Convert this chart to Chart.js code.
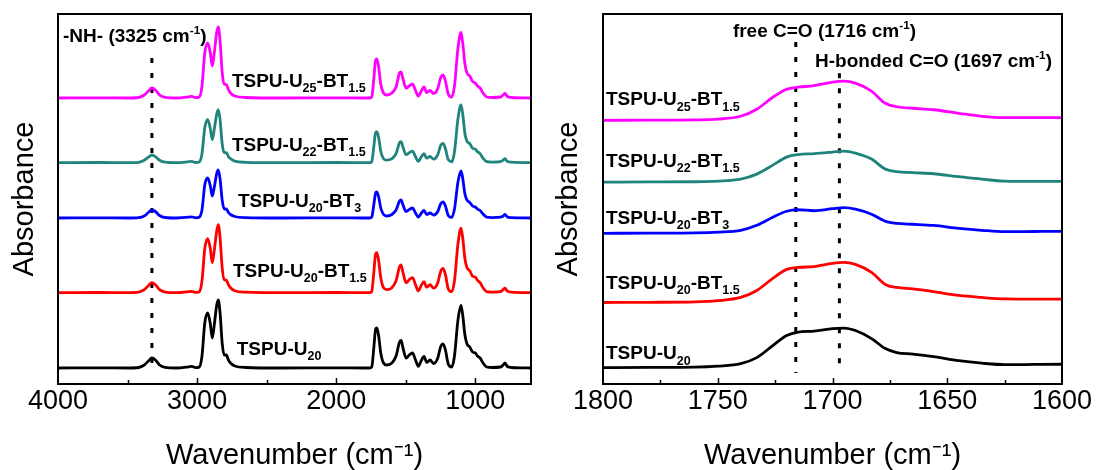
<!DOCTYPE html>
<html>
<head>
<meta charset="utf-8">
<script src="https://cdn.jsdelivr.net/npm/chart.js@4.4.0/dist/chart.umd.min.js"></script>
<style>
  html, body { margin: 0; padding: 0; background: #fff; }
  #wrap { position: relative; width: 1097px; height: 470px; }
  .box { position: absolute; top: 0; height: 470px; }
</style>
</head>
<body>
<div id="wrap">
  <div class="box" style="left:0;width:550px"><canvas id="leftChart"></canvas></div>
  <div class="box" style="left:550px;width:547px"><canvas id="rightChart"></canvas></div>
</div>
<script>
// ---- data: full range FTIR (left panel) ----
const L_WN = [4000, 3700, 3500, 3420, 3380, 3350, 3325, 3300, 3270, 3230,
  3150, 3060, 3040, 3010, 2985, 2965, 2945, 2924, 2905, 2891,
  2875, 2860, 2848, 2835, 2820, 2805, 2790, 2775, 2760, 2730,
  2650, 2400, 2000, 1800, 1760, 1745, 1730, 1718, 1708, 1695,
  1680, 1660, 1637, 1600, 1570, 1545, 1534, 1520, 1498, 1475,
  1452, 1430, 1410, 1390, 1369, 1350, 1326, 1300, 1270, 1250,
  1232, 1215, 1195, 1170, 1150, 1125, 1103, 1090, 1075, 1060,
  1040, 1020, 1000, 985, 966, 945, 918, 880, 820, 800,
  787, 770, 740, 600];

const L_U20 = [0, 0.002, 0, 0.005, 0.03, 0.07, 0.10, 0.08, 0.03, 0.006,
  0, 0.012, 0.016, 0.003, 0.01, 0.12, 0.45, 0.55, 0.44, 0.30,
  0.45, 0.62, 0.68, 0.55, 0.25, 0.13, 0.13, 0.08, 0.05, 0.02,
  0.005, 0, 0.002, 0, 0, 0.01, 0.20, 0.38, 0.40, 0.32,
  0.15, 0.05, 0.03, 0.05, 0.12, 0.26, 0.276, 0.20, 0.10, 0.13,
  0.15, 0.08, 0.016, 0.07, 0.116, 0.056, 0.08, 0.045, 0.10, 0.21,
  0.24, 0.18, 0.04, 0.01, 0.12, 0.48, 0.626, 0.52, 0.33, 0.24,
  0.21, 0.16, 0.15, 0.12, 0.10, 0.05, 0.01, 0.005, 0.01, 0.03,
  0.05, 0.015, 0.005, 0];

const L_U20_BT15 = [0, 0.002, 0, 0.005, 0.03, 0.07, 0.10, 0.08, 0.03, 0.006,
  0, 0.01, 0.014, 0.003, 0.01, 0.12, 0.44, 0.54, 0.44, 0.30,
  0.44, 0.61, 0.68, 0.55, 0.25, 0.13, 0.125, 0.08, 0.05, 0.02,
  0.005, 0, 0.002, 0, 0, 0.01, 0.20, 0.38, 0.40, 0.32,
  0.15, 0.05, 0.03, 0.05, 0.12, 0.26, 0.277, 0.20, 0.10, 0.13,
  0.15, 0.08, 0.018, 0.07, 0.11, 0.055, 0.08, 0.045, 0.10, 0.21,
  0.243, 0.18, 0.04, 0.01, 0.12, 0.49, 0.645, 0.54, 0.34, 0.25,
  0.22, 0.165, 0.155, 0.125, 0.10, 0.05, 0.01, 0.005, 0.01, 0.03,
  0.045, 0.015, 0.005, 0];

const L_U20_BT3 = [0, 0.002, 0, 0.004, 0.02, 0.055, 0.08, 0.065, 0.025, 0.005,
  0, 0.008, 0.012, 0.002, 0.008, 0.08, 0.33, 0.40, 0.32, 0.22,
  0.32, 0.44, 0.48, 0.39, 0.18, 0.09, 0.09, 0.055, 0.035, 0.015,
  0.004, 0, 0.002, 0, 0, 0.008, 0.13, 0.245, 0.26, 0.21,
  0.10, 0.035, 0.02, 0.035, 0.08, 0.17, 0.18, 0.13, 0.065, 0.085,
  0.10, 0.05, 0.01, 0.045, 0.075, 0.035, 0.05, 0.03, 0.065, 0.14,
  0.16, 0.12, 0.025, 0.006, 0.09, 0.36, 0.47, 0.39, 0.24, 0.18,
  0.155, 0.12, 0.11, 0.09, 0.075, 0.04, 0.008, 0.004, 0.008, 0.02,
  0.035, 0.01, 0.004, 0];

const L_U22_BT15 = [0, 0.002, 0, 0.004, 0.025, 0.055, 0.077, 0.06, 0.025, 0.005,
  0, 0.01, 0.013, 0.002, 0.008, 0.09, 0.35, 0.43, 0.34, 0.23,
  0.35, 0.48, 0.53, 0.43, 0.19, 0.10, 0.10, 0.06, 0.04, 0.015,
  0.004, 0, 0.002, 0, 0, 0.008, 0.16, 0.295, 0.31, 0.25,
  0.115, 0.04, 0.025, 0.04, 0.09, 0.20, 0.21, 0.155, 0.08, 0.10,
  0.115, 0.06, 0.013, 0.055, 0.09, 0.045, 0.062, 0.035, 0.08, 0.17,
  0.193, 0.14, 0.03, 0.008, 0.11, 0.44, 0.577, 0.48, 0.29, 0.215,
  0.19, 0.145, 0.135, 0.11, 0.09, 0.045, 0.01, 0.005, 0.01, 0.025,
  0.04, 0.012, 0.005, 0];

const L_U25_BT15 = [0, 0.002, 0, 0.005, 0.03, 0.07, 0.10, 0.08, 0.03, 0.006,
  0, 0.012, 0.016, 0.003, 0.01, 0.12, 0.45, 0.55, 0.45, 0.32,
  0.47, 0.65, 0.71, 0.57, 0.26, 0.14, 0.135, 0.085, 0.05, 0.02,
  0.005, 0, 0.002, 0, 0, 0.01, 0.19, 0.37, 0.39, 0.31,
  0.14, 0.05, 0.03, 0.05, 0.11, 0.25, 0.26, 0.19, 0.10, 0.12,
  0.14, 0.075, 0.02, 0.065, 0.11, 0.055, 0.075, 0.045, 0.095, 0.20,
  0.23, 0.17, 0.04, 0.01, 0.12, 0.50, 0.655, 0.54, 0.34, 0.25,
  0.22, 0.165, 0.15, 0.12, 0.10, 0.05, 0.01, 0.005, 0.01, 0.03,
  0.045, 0.015, 0.005, 0];

// vertical offsets used to stack the spectra (a.u.)
const L_OFFSETS = [0, 0.753, 1.50, 2.053, 2.70];

// ---- data: carbonyl region (right panel) ----
const R_WN = [1800, 1780, 1760, 1750, 1740, 1733, 1726, 1720, 1715, 1708, 1700, 1695,
  1690, 1683, 1677, 1672, 1665, 1656, 1645, 1635, 1625, 1612, 1600];
const R_U20 = [0, 0.002, 0.005, 0.015, 0.04, 0.10, 0.22, 0.32, 0.355, 0.365, 0.39, 0.395,
  0.37, 0.29, 0.19, 0.15, 0.135, 0.11, 0.07, 0.045, 0.03, 0.032, 0.034];
const R_U20_BT15 = [0, 0.002, 0.006, 0.018, 0.05, 0.12, 0.24, 0.33, 0.35, 0.358, 0.39, 0.40,
  0.38, 0.30, 0.18, 0.15, 0.135, 0.108, 0.07, 0.05, 0.036, 0.034, 0.034];
const R_U20_BT3 = [0, 0.002, 0.005, 0.012, 0.03, 0.08, 0.16, 0.22, 0.235, 0.225, 0.245, 0.255,
  0.24, 0.19, 0.12, 0.098, 0.09, 0.078, 0.05, 0.03, 0.016, 0.018, 0.02];
const R_U22_BT15 = [0, 0.002, 0.004, 0.01, 0.03, 0.08, 0.17, 0.25, 0.275, 0.285, 0.30, 0.31,
  0.29, 0.23, 0.13, 0.105, 0.095, 0.084, 0.055, 0.03, 0.01, 0.007, 0.007];
const R_U25_BT15 = [0, 0.001, 0.004, 0.012, 0.04, 0.11, 0.23, 0.31, 0.33, 0.345, 0.38, 0.39,
  0.37, 0.29, 0.17, 0.135, 0.12, 0.105, 0.07, 0.04, 0.027, 0.027, 0.027];
const R_OFFSETS = [0, 0.65, 1.34, 1.85, 2.467];

const COLORS = ["#000000", "#ff0000", "#0000ff", "#1e847c", "#ff00ff"];
const FONT = "'Liberation Sans', Arial, sans-serif";

// sample names as rich text: [text, 0 normal / 1 subscript / 2 superscript]
const NAMES = [
  [["TSPU-U", 0], ["20", 1]],
  [["TSPU-U", 0], ["20", 1], ["-BT", 0], ["1.5", 1]],
  [["TSPU-U", 0], ["20", 1], ["-BT", 0], ["3", 1]],
  [["TSPU-U", 0], ["22", 1], ["-BT", 0], ["1.5", 1]],
  [["TSPU-U", 0], ["25", 1], ["-BT", 0], ["1.5", 1]]
];

function drawRich(ctx, parts, x, y, size) {
  let cx = x;
  ctx.textBaseline = "alphabetic";
  ctx.textAlign = "left";
  parts.forEach(([txt, mode]) => {
    let s = size, dy = 0;
    if (mode === 1) { s = size * 0.66; dy = size * 0.28; }
    if (mode === 2) { s = size * 0.62; dy = -size * 0.42; }
    ctx.font = "bold " + s + "px " + FONT;
    ctx.fillText(txt, cx, y + dy);
    cx += ctx.measureText(txt).width;
  });
}

// frame, inward ticks, dotted marker lines and text labels
const decorPlugin = {
  id: "decor",
  beforeDatasetsDraw(chart, args, opts) {
    const ctx = chart.ctx;
    const xs = chart.scales.x, ys = chart.scales.y;
    ctx.save();
    ctx.strokeStyle = "#000";
    ctx.lineWidth = 3;
    ctx.setLineDash([5, 10]);
    opts.markers.forEach((m) => {
      const px = xs.getPixelForValue(m.x);
      ctx.beginPath();
      ctx.moveTo(px, ys.getPixelForValue(m.top));
      ctx.lineTo(px, ys.getPixelForValue(m.bottom));
      ctx.stroke();
    });
    ctx.restore();
  },
  afterDatasetsDraw(chart, args, opts) {
    const ctx = chart.ctx;
    const xs = chart.scales.x, ys = chart.scales.y;
    const { left, right, top, bottom } = chart.chartArea;
    ctx.save();
    ctx.strokeStyle = "#000";
    ctx.lineWidth = 2;
    ctx.strokeRect(left, top, right - left, bottom - top);
    ctx.lineWidth = 1.5;
    opts.major.forEach((v) => {
      const px = Math.round(xs.getPixelForValue(v)) + 0.5;
      ctx.beginPath(); ctx.moveTo(px, bottom); ctx.lineTo(px, bottom - 6); ctx.stroke();
    });
    opts.minor.forEach((v) => {
      const px = Math.round(xs.getPixelForValue(v)) + 0.5;
      ctx.beginPath(); ctx.moveTo(px, bottom); ctx.lineTo(px, bottom - 4); ctx.stroke();
    });
    ctx.fillStyle = "#000";
    opts.labels.forEach((l) => {
      drawRich(ctx, l.parts, xs.getPixelForValue(l.x), ys.getPixelForValue(l.y), 19);
    });
    ctx.restore();
  }
};

function buildSets(wn, series, offsets) {
  return series.map((vals, i) => ({
    data: wn.map((w, k) => ({ x: w, y: vals[k] + offsets[i] })),
    borderColor: COLORS[i],
    borderWidth: 2.8,
    pointRadius: 0,
    fill: false,
    cubicInterpolationMode: "monotone"
  }));
}

function makeChart(id, cfg) {
  new Chart(document.getElementById(id).getContext("2d"), {
    type: "line",
    data: { datasets: buildSets(cfg.wn, cfg.series, cfg.offsets) },
    options: {
      responsive: true,
      maintainAspectRatio: false,
      animation: false,
      layout: { padding: cfg.padding },
      plugins: {
        legend: { display: false },
        tooltip: { enabled: false },
        decor: cfg.decor
      },
      scales: {
        x: {
          type: "linear",
          reverse: true,
          min: cfg.xmin,
          max: cfg.xmax,
          grid: { display: false, drawTicks: false },
          border: { display: false },
          afterBuildTicks: (scale) => {
            scale.ticks = cfg.xticks.map((v) => ({ value: v }));
          },
          afterFit: (scale) => { scale.height = 86; },
          ticks: {
            autoSkip: false,
            maxRotation: 0,
            padding: 4,
            color: "#000",
            font: { family: FONT, size: 27, lineHeight: 1 },
            callback: (v) => String(v)
          },
          title: {
            display: true,
            text: "Wavenumber (cm\u207B\u00B9)",
            color: "#000",
            font: { family: FONT, size: 29, lineHeight: 1 },
            padding: { top: 23, bottom: 0 }
          }
        },
        y: {
          min: cfg.ymin,
          max: cfg.ymax,
          grid: { display: false, drawTicks: false },
          border: { display: false },
          ticks: { display: false },
          afterFit: (scale) => { scale.width = cfg.yWidth; },
          title: {
            display: true,
            text: "Absorbance",
            color: "#000",
            font: { family: FONT, size: 29, lineHeight: 1 },
            padding: cfg.ytitlePad
          }
        }
      }
    },
    plugins: [decorPlugin]
  });
}

makeChart("leftChart", {
  wn: L_WN,
  series: [L_U20, L_U20_BT15, L_U20_BT3, L_U22_BT15, L_U25_BT15],
  offsets: L_OFFSETS,
  xmin: 600, xmax: 4000,
  ymin: -0.16, ymax: 3.54,
  xticks: [4000, 3000, 2000, 1000],
  padding: { left: 0, right: 19, top: 14, bottom: 0 },
  yWidth: 58,
  ytitlePad: { top: 10, bottom: 19 },
  decor: {
    major: [3000, 2000, 1000],
    minor: [3500, 2500, 1500],
    markers: [{ x: 3325, top: 3.10, bottom: -0.04 }],
    labels: [
      { parts: [["-NH- (3325 cm", 0], ["-1", 2], [")", 0]], x: 3964, y: 3.263 },
      { parts: NAMES[4], x: 2750, y: 2.813 },
      { parts: NAMES[3], x: 2750, y: 2.173 },
      { parts: NAMES[2], x: 2706, y: 1.613 },
      { parts: NAMES[1], x: 2742, y: 0.913 },
      { parts: NAMES[0], x: 2715, y: 0.13 }
    ]
  }
});

makeChart("rightChart", {
  wn: R_WN,
  series: [R_U20, R_U20_BT15, R_U20_BT3, R_U22_BT15, R_U25_BT15],
  offsets: R_OFFSETS,
  xmin: 1600, xmax: 1800,
  ymin: -0.163, ymax: 3.527,
  xticks: [1800, 1750, 1700, 1650, 1600],
  padding: { left: 0, right: 35, top: 14, bottom: 0 },
  yWidth: 53,
  ytitlePad: { top: 4, bottom: 20 },
  decor: {
    major: [1750, 1700, 1650],
    minor: [1775, 1725, 1675, 1625],
    markers: [
      { x: 1716, top: 3.247, bottom: -0.053 },
      { x: 1697, top: 2.937, bottom: -0.053 }
    ],
    labels: [
      { parts: [["free C=O (1716 cm", 0], ["-1", 2], [")", 0]], x: 1743.4, y: 3.30 },
      { parts: [["H-bonded C=O (1697 cm", 0], ["-1", 2], [")", 0]], x: 1707.6, y: 3.00 },
      { parts: NAMES[4], x: 1798.7, y: 2.617 },
      { parts: NAMES[3], x: 1798.7, y: 2.0 },
      { parts: NAMES[2], x: 1798.7, y: 1.434 },
      { parts: NAMES[1], x: 1798.7, y: 0.784 },
      { parts: NAMES[0], x: 1798.7, y: 0.084 }
    ]
  }
});
</script>
</body>
</html>
